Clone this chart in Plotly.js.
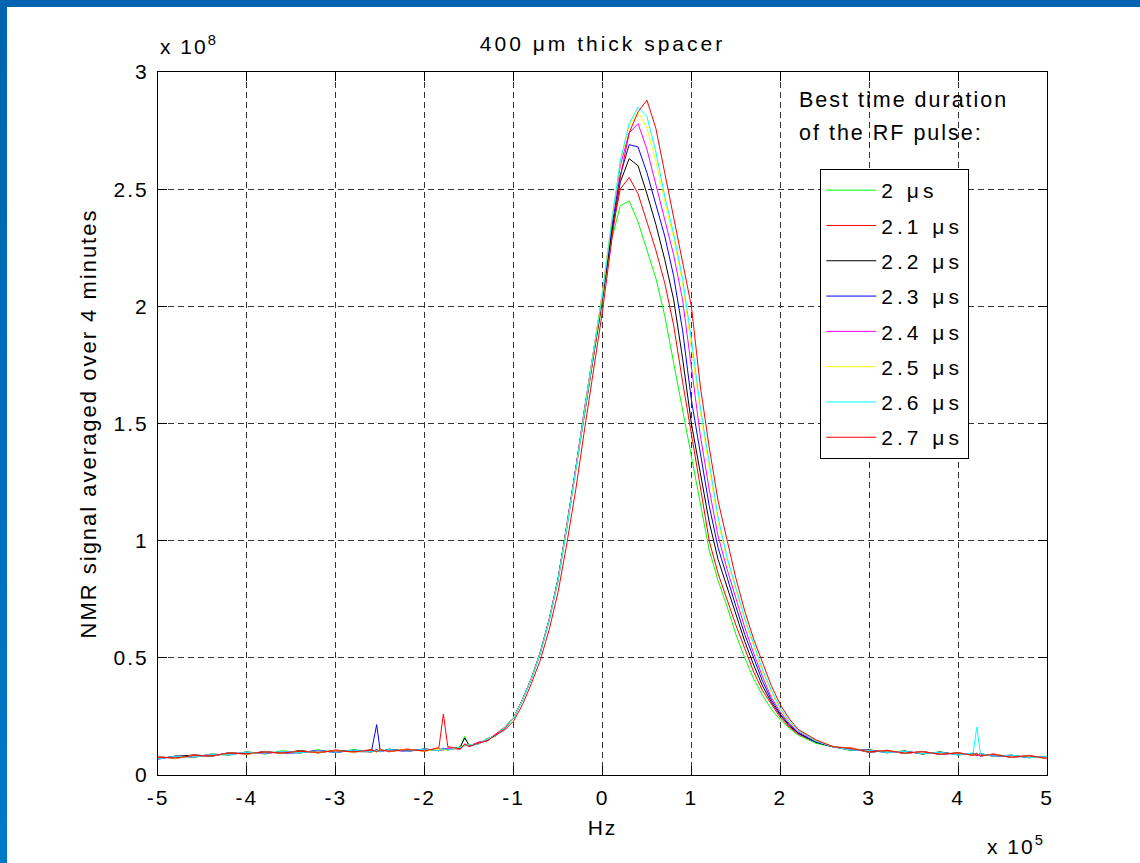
<!DOCTYPE html>
<html><head><meta charset="utf-8">
<script src="https://cdn.plot.ly/plotly-3.0.1.min.js"></script>
<style>
html,body{margin:0;padding:0;background:#fff;}
#chart{width:1140px;height:863px;position:absolute;left:0;top:0;}
#topbar{position:absolute;left:0;top:0;width:1140px;height:7px;background:#0064b0;z-index:10;}
#leftbar{position:absolute;left:0;top:0;width:7px;height:863px;background:linear-gradient(#0064b0,#0078c8);z-index:10;}
svg text{letter-spacing:2px;}
svg text.legendtext{letter-spacing:4px;}
svg text.gtitle{letter-spacing:3px;}
</style></head><body>
<div id="chart"></div><div id="topbar"></div><div id="leftbar"></div>
<script>
// frequency offset, in units of 1e5 Hz
const hz = [-5,-4.8,-4.6,-4.4,-4.2,-4.0,-3.8,-3.6,-3.4,-3.2,-3.0,-2.8,-2.6,-2.54,-2.5,-2.4,-2.2,-2.0,-1.84,-1.79,-1.74,-1.6,-1.55,-1.5,-1.4,-1.3,-1.2,-1.1,
  -1.0,-0.9,-0.8,-0.7,-0.6,-0.5,-0.4,-0.3,-0.2,-0.1,0.0,0.1,0.2,0.3,0.4,0.5,0.6,0.7,0.8,0.9,1.0,1.1,1.2,1.3,1.4,1.5,1.6,1.7,1.8,1.9,2.0,2.1,2.2,2.4,2.6,
  2.8,3.0,3.2,3.4,3.6,3.8,4.0,4.17,4.21,4.25,4.4,4.6,4.8,5.0];

// NMR signal, in units of 1e8
const pulse_2_0 = [0.068,0.082,0.074,0.09,0.084,0.1,0.089,0.104,0.093,0.108,0.095,0.109,0.098,0.108,0.099,0.111,0.1,0.112,0.103,0.115,0.106,0.121,0.165,0.122,0.137,0.149,0.171,0.196,
  0.243,0.32,0.41,0.52,0.66,0.84,1.06,1.31,1.56,1.79,2.02,2.28,2.43,2.45,2.36,2.24,2.12,1.96,1.76,1.56,1.36,1.15,0.96,0.83,0.72,0.60,0.50,0.41,0.34,0.28,0.235,0.20,0.17,0.135,0.118,
  0.104,0.108,0.094,0.103,0.089,0.099,0.085,0.094,0.082,0.092,0.079,0.085,0.073,0.08];
const pulse_2_1 = [0.079,0.07,0.086,0.079,0.096,0.088,0.101,0.091,0.104,0.094,0.107,0.097,0.109,0.098,0.11,0.099,0.111,0.101,0.113,0.106,0.115,0.11,0.131,0.124,0.139,0.145,0.175,0.204,
  0.246,0.322,0.412,0.522,0.662,0.835,1.065,1.305,1.565,1.80,2.03,2.30,2.50,2.55,2.48,2.36,2.24,2.10,1.92,1.68,1.46,1.23,1.00,0.86,0.75,0.64,0.54,0.44,0.36,0.30,0.245,0.205,0.175,0.14,0.12,
  0.116,0.096,0.106,0.091,0.101,0.087,0.096,0.083,0.093,0.081,0.09,0.075,0.084,0.07];
const pulse_2_2 = [0.07,0.08,0.085,0.082,0.093,0.092,0.098,0.094,0.104,0.095,0.105,0.1,0.099,0.108,0.1,0.11,0.102,0.109,0.104,0.114,0.107,0.119,0.158,0.127,0.131,0.154,0.168,0.202,
  0.245,0.321,0.41,0.521,0.661,0.832,1.062,1.302,1.562,1.80,2.04,2.31,2.53,2.63,2.60,2.48,2.35,2.20,2.03,1.78,1.50,1.29,1.08,0.92,0.80,0.69,0.57,0.47,0.38,0.31,0.255,0.21,0.18,0.14,0.121,
  0.106,0.107,0.097,0.102,0.09,0.098,0.087,0.092,0.083,0.091,0.08,0.084,0.075,0.079];
const pulse_2_3 = [0.077,0.072,0.083,0.08,0.095,0.089,0.1,0.093,0.095,0.105,0.096,0.106,0.1,0.215,0.101,0.107,0.102,0.111,0.104,0.113,0.108,0.117,0.127,0.128,0.132,0.153,0.167,0.201,
  0.244,0.322,0.413,0.524,0.664,0.836,1.07,1.31,1.57,1.81,2.05,2.33,2.56,2.69,2.68,2.57,2.44,2.30,2.13,1.90,1.60,1.38,1.15,0.97,0.84,0.72,0.60,0.50,0.40,0.32,0.26,0.215,0.18,0.141,0.119,
  0.113,0.097,0.104,0.092,0.1,0.088,0.094,0.085,0.092,0.081,0.087,0.075,0.082,0.071];
const pulse_2_4 = [0.067,0.081,0.076,0.089,0.086,0.098,0.091,0.1,0.096,0.104,0.097,0.105,0.099,0.106,0.101,0.108,0.1,0.111,0.105,0.107,0.114,0.112,0.133,0.121,0.139,0.148,0.173,0.198,
  0.246,0.32,0.411,0.52,0.66,0.83,1.06,1.30,1.56,1.81,2.06,2.35,2.60,2.74,2.78,2.67,2.52,2.38,2.22,2.03,1.73,1.45,1.22,1.02,0.88,0.75,0.63,0.52,0.42,0.33,0.27,0.22,0.185,0.145,0.12,
  0.107,0.106,0.095,0.101,0.091,0.097,0.086,0.092,0.083,0.09,0.08,0.084,0.074,0.079];
const pulse_2_5 = [0.078,0.071,0.084,0.081,0.094,0.089,0.099,0.093,0.102,0.096,0.104,0.098,0.106,0.099,0.108,0.1,0.109,0.102,0.111,0.106,0.107,0.118,0.127,0.128,0.132,0.153,0.167,0.203,
  0.245,0.32,0.41,0.52,0.66,0.83,1.06,1.30,1.56,1.81,2.06,2.36,2.62,2.77,2.83,2.76,2.62,2.45,2.29,2.10,1.83,1.55,1.31,1.08,0.92,0.79,0.66,0.55,0.44,0.35,0.28,0.225,0.19,0.145,0.12,
  0.114,0.098,0.104,0.093,0.099,0.089,0.094,0.084,0.091,0.082,0.088,0.076,0.082,0.071];
const pulse_2_6 = [0.069,0.08,0.077,0.088,0.087,0.097,0.093,0.1,0.095,0.103,0.097,0.106,0.1,0.105,0.1,0.109,0.101,0.11,0.104,0.113,0.106,0.119,0.126,0.129,0.131,0.152,0.168,0.202,
  0.244,0.32,0.41,0.52,0.658,0.83,1.055,1.295,1.55,1.80,2.05,2.35,2.62,2.78,2.85,2.81,2.66,2.47,2.31,2.12,1.86,1.57,1.33,1.10,0.93,0.80,0.67,0.56,0.45,0.36,0.285,0.23,0.19,0.145,0.12,
  0.106,0.105,0.096,0.101,0.091,0.097,0.086,0.094,0.205,0.092,0.08,0.085,0.074,0.079];
const pulse_2_7 = [0.076,0.073,0.083,0.082,0.093,0.091,0.098,0.094,0.101,0.097,0.103,0.099,0.106,0.1,0.107,0.101,0.108,0.103,0.117,0.26,0.121,0.112,0.131,0.121,0.136,0.145,0.171,0.192,
  0.23,0.30,0.39,0.49,0.62,0.78,0.99,1.22,1.48,1.72,1.98,2.27,2.55,2.74,2.83,2.88,2.76,2.57,2.38,2.20,2.00,1.66,1.40,1.17,1.00,0.84,0.70,0.58,0.48,0.38,0.30,0.24,0.195,0.15,0.12,
  0.113,0.099,0.104,0.094,0.099,0.089,0.094,0.084,0.09,0.082,0.088,0.076,0.082,0.071];

const seriesNames = ['2 μs','2.1 μs','2.2 μs','2.3 μs','2.4 μs','2.5 μs','2.6 μs','2.7 μs'];
const seriesValues = [pulse_2_0,pulse_2_1,pulse_2_2,pulse_2_3,pulse_2_4,pulse_2_5,pulse_2_6,pulse_2_7];
const xTickVals = [-5,-4,-3,-2,-1,0,1,2,3,4,5];
const xTickText = ['-5','-4','-3','-2','-1','0','1','2','3','4','5'];
const yTickVals = [0,0.5,1,1.5,2,2.5,3];
const yTickText = ['0','0.5','1','1.5','2','2.5','3'];

const lineColors = ['#00ff00','#ff0000','#000000','#0000ff','#ff00ff','#ffff00','#00ffff','#ff0000'];
const FONT = 'Liberation Sans, Arial, sans-serif';

const traces = seriesValues.map((v,i)=>({
  type:'scatter', mode:'lines', x: hz, y: v, name: seriesNames[i],
  legendgroup:'g'+i,
  line:{color:lineColors[i], width:1}
}));

const axisCommon = {
  ticks:'inside', ticklen:9, tickcolor:'#000', tickwidth:1,
  showline:true, linecolor:'#000', linewidth:1, mirror:'ticks',
  showgrid:true, gridcolor:'#333', gridwidth:1, griddash:'6px,4px',
  zeroline:false, tickfont:{size:21, color:'#000'}, fixedrange:true
};

const layout = {
  width:1140, height:863,
  margin:{l:158, r:93, t:72, b:88},
  paper_bgcolor:'#fff', plot_bgcolor:'#fff',
  font:{family:FONT, size:21, color:'#000'},
  title:{text:'400 μm thick spacer', x:0.5, xref:'paper', y:1-44/863, yref:'container', yanchor:'middle', xanchor:'center', font:{size:21}},
  xaxis:Object.assign({}, axisCommon, {range:[-5,5], tickvals:xTickVals, ticktext:xTickText, ticklabelstandoff:4,
    title:{text:'Hz', font:{size:21}, standoff:12}}),
  yaxis:Object.assign({}, axisCommon, {range:[0,3], tickvals:yTickVals, ticktext:yTickText, ticklabelstandoff:4,
    title:{text:'NMR signal averaged over 4 minutes', font:{size:22}, standoff:10}}),
  showlegend:true,
  legend:{x:0.745, xanchor:'left', y:0.862, yanchor:'top', bgcolor:'#fff', bordercolor:'#000', borderwidth:1,
    font:{size:21}, tracegroupgap:5, itemwidth:50},
  annotations:[
    {text:'x 10<sup>8</sup>', xref:'paper', yref:'paper', x:0, xanchor:'left', y:1+27/703, yanchor:'middle', showarrow:false, font:{size:21}},
    {text:'x 10<sup>5</sup>', xref:'paper', yref:'paper', x:1, xanchor:'right', y:-(845-775)/703, yanchor:'middle', showarrow:false, font:{size:21}},
    {text:'Best time duration', xref:'paper', yref:'paper', x:(797-158)/889, xanchor:'left', y:(775-100)/703, yanchor:'middle', showarrow:false, font:{size:21.5}},
    {text:'of the RF pulse:', xref:'paper', yref:'paper', x:(797-158)/889, xanchor:'left', y:(775-133)/703, yanchor:'middle', showarrow:false, font:{size:21.5}}
  ]
};

Plotly.newPlot('chart', traces, layout, {displayModeBar:false, staticPlot:true});
</script></body></html>
